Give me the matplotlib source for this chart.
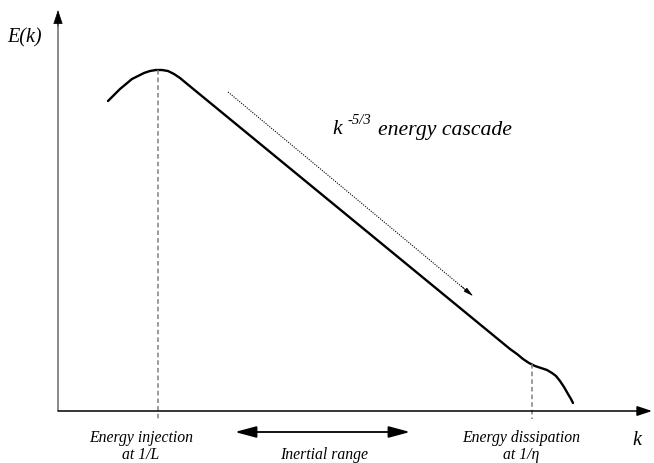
import numpy as np
import matplotlib.pyplot as plt

plt.rcParams['font.family'] = ['Liberation Serif', 'DejaVu Serif']

# Espectro de energía esquemático (k, E)
k = [50, 56, 62, 68, 74, 80, 86, 92, 98, 104, 110, 116, 122, 128,
     452, 459, 465, 471, 477, 483, 489, 494, 498, 502, 506, 510, 513, 515]
E = [310, 316, 322, 327, 332, 335, 338, 340, 341, 341, 340, 337, 333, 328,
     62, 57, 52, 48, 45, 43, 41, 38, 35, 30, 24, 17, 12, 8]

k_L = 100      # inyección, 1/L
k_eta = 474    # disipación, 1/eta
E_L = 341
E_eta = 47

# flecha de la cascada y rango inercial
casc_ini = (170, 319)
casc_fin = (415, 115)
rango = (177, 352)

fig = plt.figure(figsize=(6.54, 4.64), dpi=100)
ax = fig.add_axes([0, 0, 1, 1])
ax.set_xlim(-58, 596)
ax.set_ylim(-52, 412)
ax.axis('off')

cabeza = '-|>,head_length=0.9,head_width=0.3'

# ejes con flecha
ax.plot([0, 0], [0, 392], color='#808080', lw=1.3, solid_capstyle='butt')
ax.annotate('', xy=(0, 401), xytext=(0, 385),
            arrowprops=dict(arrowstyle=cabeza, color='black', lw=0.5,
                            shrinkA=0, shrinkB=0))
ax.annotate('', xy=(594, 0), xytext=(0, 0),
            arrowprops=dict(arrowstyle=cabeza, color='black', lw=1.1,
                            shrinkA=0, shrinkB=0))

# curva
ax.plot(k, E, color='black', lw=1.7, solid_joinstyle='round', solid_capstyle='round')

# líneas verticales discontinuas
ax.plot([k_L, k_L], [E_L, -8], color='#808080', lw=1.1, ls=(0, (3, 2)))
ax.plot([k_eta, k_eta], [E_eta, -8], color='#808080', lw=1.1, ls=(0, (3, 2)))

# flecha punteada de la cascada
ax.plot([casc_ini[0], casc_fin[0] - 4], [casc_ini[1], casc_fin[1] + 3.3],
        color='black', lw=0.8, ls=(0, (1, 1.2)))
ax.annotate('', xy=casc_fin, xytext=(casc_fin[0] - 12, casc_fin[1] + 10),
            arrowprops=dict(arrowstyle='-|>,head_length=0.6,head_width=0.15',
                            color='black', lw=0.5, shrinkA=0, shrinkB=0))

# rango inercial
ax.annotate('', xy=(rango[1], -21), xytext=(rango[0], -21),
            arrowprops=dict(arrowstyle='<|-|>,head_length=1.3,head_width=0.35',
                            color='black', lw=1.3, shrinkA=0, shrinkB=0))

# textos
ax.text(-33, 374, 'E(k)', fontsize=14.5, style='italic', ha='center', va='center')
ax.text(579, -29, 'k', fontsize=14.5, style='italic', ha='center', va='center')

ax.text(274, 282, 'k', fontsize=15.7, style='italic', ha='left', va='center')
ax.text(289, 292, '-5/3', fontsize=10.5, style='italic', ha='left', va='center')
ax.text(320, 282, 'energy cascade', fontsize=15.7, style='italic', ha='left', va='center')

ax.text(83, -26, 'Energy injection', fontsize=11.3, style='italic', ha='center', va='center')
ax.text(83, -43.5, 'at 1/L', fontsize=11.3, style='italic', ha='center', va='center')
ax.text(463, -26, 'Energy dissipation', fontsize=11.3, style='italic', ha='center', va='center')
ax.text(463, -43.5, 'at 1/η', fontsize=11.3, style='italic', ha='center', va='center')
ax.text(266, -43, 'Inertial range', fontsize=11.3, style='italic', ha='center', va='center')

fig.savefig('out.png', dpi=100)
